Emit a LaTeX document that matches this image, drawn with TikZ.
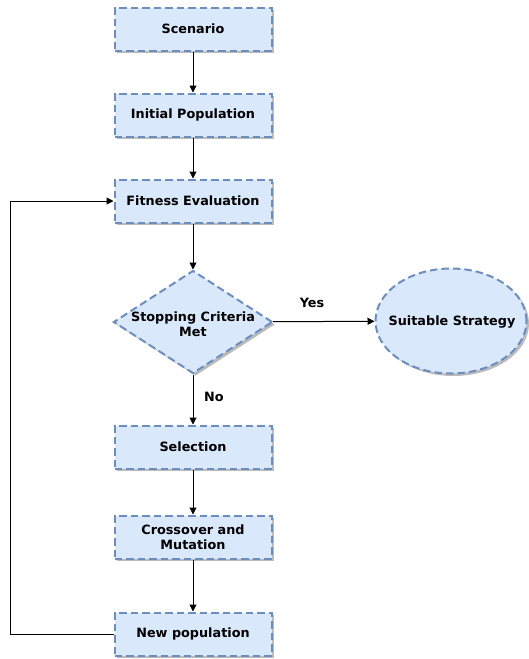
\documentclass[tikz,border=0pt]{standalone}
\usepackage{fontspec}
\setmainfont{DejaVu Sans}
\usetikzlibrary{shapes.geometric,arrows.meta,shadows}
\definecolor{boxfill}{HTML}{DAE8FC}
\definecolor{boxline}{HTML}{6C8EBF}
\definecolor{shadowc}{HTML}{BBBBBB}
\tikzset{
  shd/.style={drop shadow={shadow xshift=2.5pt,shadow yshift=-2.5pt,fill=shadowc,opacity=1}},
  dsh/.style={draw=boxline,fill=boxfill,line width=2pt,dash pattern=on 7.5pt off 4pt,shd},
  stepbox/.style={rectangle,dsh,
    minimum width=157pt,minimum height=43pt,inner sep=0pt,align=center,
    font=\fontsize{12.8}{15}\selectfont\bfseries},
  decide/.style={diamond,dsh,minimum width=159pt,minimum height=103pt,inner sep=0pt},
  term/.style={ellipse,dsh,minimum width=151pt,minimum height=105pt,inner sep=0pt},
  lbl/.style={align=center,inner sep=0pt,font=\fontsize{12.8}{15}\selectfont\bfseries},
  conn/.style={draw=black,line width=1pt,-{Triangle[length=7pt,width=7pt]}},
}
\begin{document}
\begin{tikzpicture}[x=1pt,y=-1pt]
\useasboundingbox (0,0) rectangle (528,659);
\node[stepbox] (sc) at (193,29) {Scenario};
\node[stepbox] (ip) at (193,115) {Initial Population};
\node[stepbox] (fe) at (193,201) {Fitness Evaluation};
\node[decide] (dm) at (193,322) {};
\node[lbl] (dmt) at (193,324) {Stopping Criteria\\Met};
\node[term] (ss) at (451,321) {};
\node[lbl] (sst) at (452,322) {Suitable Strategy};
\node[stepbox] (sel) at (193,447) {Selection};
\node[stepbox] (cm) at (193,537) {Crossover and\\Mutation};
\node[stepbox] (np) at (193,634) {New population};
\node[lbl] (yes) at (312,303) {Yes};
\node[lbl] (no) at (214,397) {No};
\coordinate (lp) at (10,634);
\draw[conn] (sc) -- (ip);
\draw[conn] (ip) -- (fe);
\draw[conn] (fe) -- (dm);
\draw[conn] (dm) -- (ss);
\draw[conn] (dm) -- (sel);
\draw[conn] (sel) -- (cm);
\draw[conn] (cm) -- (np);
\draw[conn] (np.west) -- (lp) |- (fe.west);
\end{tikzpicture}
\end{document}
